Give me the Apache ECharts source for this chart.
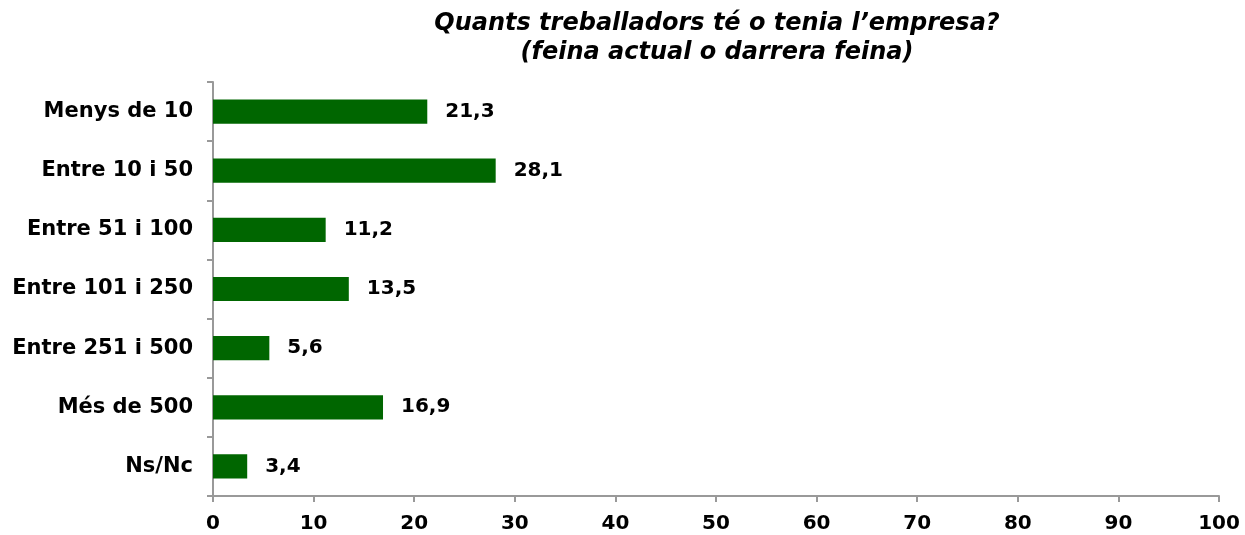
<!DOCTYPE html>
<html>
<head>
<meta charset="utf-8">
<script src="https://cdn.jsdelivr.net/npm/echarts@6/dist/echarts.min.js"></script>
<style>
  html, body { margin: 0; padding: 0; background: #fff; }
  #main { width: 1245px; height: 535px; }
</style>
</head>
<body>
<div id="main"></div>
<script>
const categories = ["Menys de 10", "Entre 10 i 50", "Entre 51 i 100", "Entre 101 i 250", "Entre 251 i 500", "Més de 500", "Ns/Nc"];
const values = [21.3, 28.1, 11.2, 13.5, 5.6, 16.9, 3.4];
const xTicks = [0, 10, 20, 30, 40, 50, 60, 70, 80, 90, 100];

const font = "DejaVu Sans, Verdana, sans-serif";
let myChart = echarts.init(document.getElementById("main"));
let option = {
  animation: false,
  title: {
    text: "Quants treballadors té o tenia l’empresa?\n(feina actual o darrera feina)",
    left: 712,
    textAlign: "center",
    top: 4,
    textStyle: { fontFamily: font, fontSize: 24, fontWeight: "bold", fontStyle: "italic", color: "#000", lineHeight: 29 }
  },
  grid: { left: 213, right: 26, top: 82, bottom: 39 },
  xAxis: {
    type: "value",
    min: xTicks[0],
    max: xTicks[xTicks.length - 1],
    interval: 10,
    splitLine: { show: false },
    axisLine: { show: true, lineStyle: { color: "#999", width: 2 } },
    axisTick: { show: true, length: 6, lineStyle: { color: "#999", width: 2 } },
    axisLabel: { fontFamily: font, fontSize: 20, fontWeight: "bold", color: "#000", margin: 18 }
  },
  yAxis: {
    type: "category",
    inverse: true,
    data: categories,
    axisLine: { show: true, lineStyle: { color: "#999", width: 2 } },
    axisTick: { show: true, length: 6, lineStyle: { color: "#999", width: 2 } },
    axisLabel: { fontFamily: font, fontSize: 21, fontWeight: "bold", color: "#000", margin: 20 }
  },
  series: [{
    type: "bar",
    data: values,
    barWidth: "41%",
    itemStyle: { color: "#006600" },
    label: {
      show: true,
      position: "right",
      distance: 18,
      fontFamily: font,
      fontSize: 20,
      fontWeight: "bold",
      color: "#000",
      formatter: (p) => String(p.value).replace(".", ",")
    }
  }]
};
myChart.setOption(option);
</script>
</body>
</html>
